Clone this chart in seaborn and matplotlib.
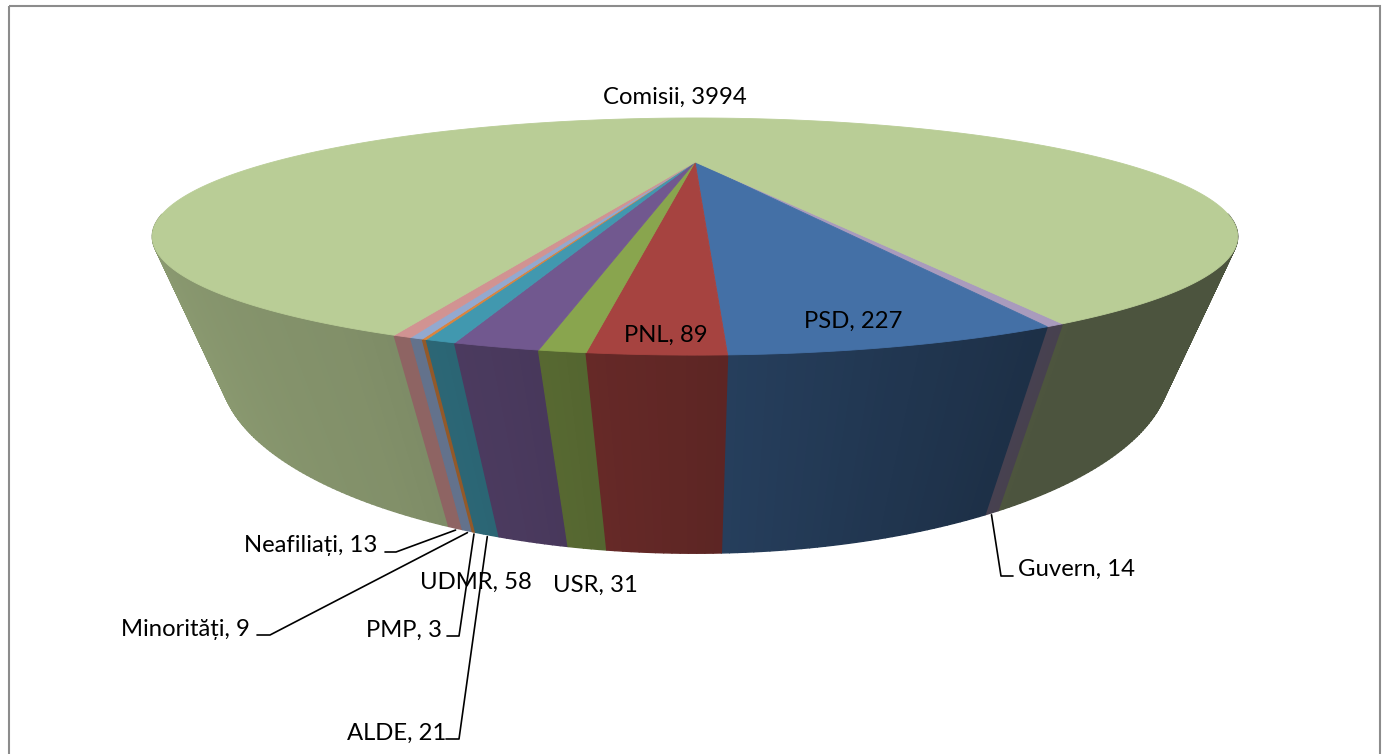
import matplotlib

matplotlib.use("Agg", force=True)
import matplotlib.pyplot as plt
import numpy as np
import seaborn as sns
from matplotlib.collections import PolyCollection
from matplotlib.patches import Rectangle

# clockwise on screen, starting at the Guvern slice
NAMES = ["Guvern", "PSD", "PNL", "USR", "UDMR", "ALDE", "PMP", "Minorități", "Neafiliați", "Comisii"]
VALUES = [14, 227, 89, 31, 58, 21, 3, 9, 13, 3994]
COLORS = ["#A99BBD", "#4470A6", "#A64340", "#89A54E", "#71588F", "#4198AF", "#DB843D", "#93A9CF", "#D19392", "#B9CD96"]

START_DEG = 68.9

# perspective camera, in image pixels
CX, CY = 695.0, 162.0
A, B, K = 422.0, 71.7, 0.6287
DROP, M = 108.0, 0.088

# side wall brightness against the angle round the pie
SHADE_T = [-90, 68, 80, 90, 100, 110, 150, 270]
SHADE_V = [0.41, 0.41, 0.49, 0.57, 0.65, 0.70, 0.78, 0.80]

# name: label centre, elbow and end of the leader (None = no leader)
LABELS = {
    "Comisii": ((675, 97), None),
    "PNL": ((666, 335), None),
    "PSD": ((853, 321), None),
    "UDMR": ((476, 582), None),
    "USR": ((595, 585), None),
    "Guvern": ((1077, 569), [(1001, 576), (1013, 576)]),
    "Neafiliați": ((311, 545), [(396, 552), (385, 552)]),
    "Minorități": ((185, 629), [(270, 635), (257, 635)]),
    "PMP": ((404, 630), [(459, 636), (447, 636)]),
    "ALDE": ((397, 733), [(459, 739), (446, 739)]),
}


def project(t, z=0.0):
    x, y = np.cos(t), np.sin(t)
    w = 1 - K * y + M * z
    return CX + A * x / w, CY + (B * y + DROP * z) / w


def slice_edges():
    spans = np.radians(np.array(VALUES) / sum(VALUES) * 360.0)
    start = np.radians(START_DEG)
    edges = start + np.concatenate([[0.0], np.cumsum(spans)])
    return edges[:-1], edges[1:]


def draw_walls(ax, starts, stops, palette):
    quads, colors, depth = [], [], []
    for t0, t1, col in zip(starts, stops, palette):
        steps = max(2, int(np.degrees(t1 - t0) / 0.5))
        ts = np.linspace(t0, t1, steps + 1)
        for a, b in zip(ts[:-1], ts[1:]):
            # the back of the wall is hidden by the top face
            if np.sin((a + b) / 2) < 0.5:
                continue
            quads.append([project(a), project(b), project(b, 1.0), project(a, 1.0)])
            mid = np.degrees((a + b) / 2)
            mid = (mid + 90) % 360 - 90
            shade = np.interp(mid, SHADE_T, SHADE_V)
            colors.append(tuple(c * shade for c in col))
            depth.append(np.sin((a + b) / 2))
    order = np.argsort(depth)
    pc = PolyCollection(
        [quads[i] for i in order],
        facecolors=[colors[i] for i in order],
        edgecolors=[colors[i] for i in order],
        linewidths=1.0,
    )
    ax.add_collection(pc)


def draw_top(ax, starts, stops, palette):
    for t0, t1, col in zip(starts, stops, palette):
        ts = np.linspace(t0, t1, max(3, int(np.degrees(t1 - t0)) * 2))
        xs, ys = project(ts)
        ax.fill(np.r_[CX, xs], np.r_[CY, ys], color=col, lw=0.6)


def draw_labels(ax, starts, stops):
    for name, value, t0, t1 in zip(NAMES, VALUES, starts, stops):
        (tx, ty), leader = LABELS[name]
        ax.text(tx, ty, f"{name}, {value}", ha="center", va="center", fontsize=17.2, color="black")
        if leader is None:
            continue
        ex, ey = project((t0 + t1) / 2, 1.0)
        xs = [ex, leader[0][0], leader[1][0]]
        ys = [ey + 2.0, leader[0][1], leader[1][1]]
        sns.lineplot(x=xs, y=ys, sort=False, estimator=None, color="black", linewidth=1.2, ax=ax, legend=False)


def main():
    sns.set_theme(style="white")
    plt.rcParams["font.family"] = ["Lato", "DejaVu Sans"]
    palette = sns.color_palette(COLORS)

    fig = plt.figure(figsize=(13.87, 7.54), dpi=100, facecolor="white")
    ax = fig.add_axes([0, 0, 1, 1])
    ax.set_xlim(0, 1387)
    ax.set_ylim(754, 0)
    ax.axis("off")

    ax.add_patch(Rectangle((9, 6), 1371, 800, fill=False, edgecolor="#8c8c8c", linewidth=1.5))

    starts, stops = slice_edges()
    draw_walls(ax, starts, stops, palette)
    draw_top(ax, starts, stops, palette)
    draw_labels(ax, starts, stops)

    ax.set_xlim(0, 1387)
    ax.set_ylim(754, 0)
    fig.savefig("out.png", dpi=100)
    plt.close(fig)


if __name__ == "__main__":
    main()
